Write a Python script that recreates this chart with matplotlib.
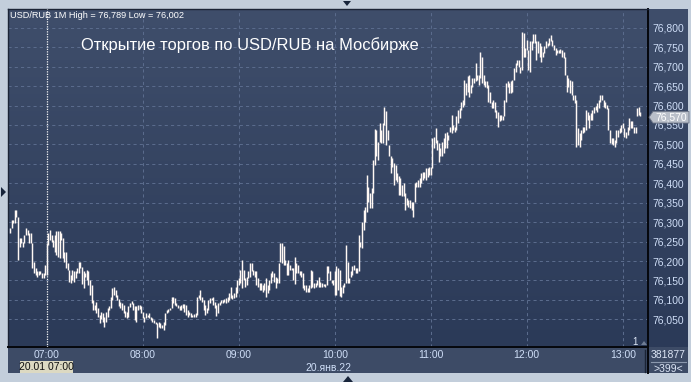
import matplotlib
matplotlib.use('Agg')
import matplotlib.pyplot as plt
import numpy as np
from matplotlib.patches import Rectangle, Polygon
from matplotlib.colors import LinearSegmentedColormap

plt.rcParams['font.family'] = ['Liberation Sans', 'DejaVu Sans']

# ---------------- data (1-minute bars, USD/RUB, 20 Jan 2022) ----------------
start_hour, start_minute = 6, 37
highs = [
    76.284, 76.306, 76.306, 76.331, 76.331, 76.313, 76.258, 76.258, 76.250, 76.267,
    76.284, 76.280, 76.271, 76.271, 76.246, 76.198, 76.181, 76.173, 76.173, 76.175,
    76.168, 76.168, 76.190, 76.246, 76.271, 76.280, 76.267, 76.254, 76.267, 76.276,
    76.276, 76.276, 76.271, 76.258, 76.224, 76.224, 76.194, 76.177, 76.164, 76.177,
    76.173, 76.173, 76.181, 76.198, 76.198, 76.184, 76.175, 76.170, 76.177, 76.173,
    76.151, 76.138, 76.100, 76.087, 76.095, 76.078, 76.061, 76.070, 76.065, 76.057,
    76.070, 76.078, 76.084, 76.108, 76.130, 76.134, 76.126, 76.113, 76.101, 76.095,
    76.093, 76.087, 76.072, 76.070, 76.083, 76.093, 76.097, 76.093, 76.083, 76.083,
    76.087, 76.087, 76.084, 76.070, 76.057, 76.065, 76.061, 76.065, 76.057, 76.053,
    76.048, 76.044, 76.040, 76.044, 76.040, 76.035, 76.044, 76.065, 76.074, 76.076,
    76.078, 76.108, 76.108, 76.104, 76.091, 76.087, 76.083, 76.087, 76.089, 76.089,
    76.087, 76.074, 76.070, 76.065, 76.061, 76.064, 76.065, 76.108, 76.113, 76.125,
    76.108, 76.100, 76.087, 76.078, 76.100, 76.104, 76.104, 76.108, 76.095, 76.087,
    76.091, 76.095, 76.100, 76.100, 76.101, 76.104, 76.108, 76.117, 76.134, 76.113,
    76.117, 76.132, 76.151, 76.156, 76.177, 76.203, 76.177, 76.156, 76.160, 76.173,
    76.194, 76.194, 76.177, 76.173, 76.173, 76.156, 76.143, 76.143, 76.138, 76.143,
    76.156, 76.138, 76.151, 76.170, 76.173, 76.168, 76.160, 76.156, 76.194, 76.246,
    76.246, 76.239, 76.203, 76.194, 76.203, 76.190, 76.181, 76.181, 76.211, 76.194,
    76.190, 76.173, 76.173, 76.168, 76.138, 76.138, 76.130, 76.138, 76.177, 76.173,
    76.143, 76.143, 76.151, 76.160, 76.147, 76.143, 76.141, 76.141, 76.186, 76.186,
    76.173, 76.151, 76.151, 76.173, 76.186, 76.181, 76.177, 76.134, 76.138, 76.143,
    76.241, 76.198, 76.156, 76.173, 76.186, 76.190, 76.181, 76.181, 76.267, 76.250,
    76.301, 76.331, 76.340, 76.422, 76.391, 76.374, 76.387, 76.460, 76.539, 76.537,
    76.507, 76.554, 76.537, 76.554, 76.597, 76.585, 76.537, 76.499, 76.469, 76.464,
    76.452, 76.447, 76.426, 76.420, 76.413, 76.396, 76.400, 76.374, 76.361, 76.357,
    76.357, 76.353, 76.353, 76.400, 76.404, 76.409, 76.413, 76.426, 76.430, 76.430,
    76.439, 76.439, 76.443, 76.443, 76.516, 76.520, 76.542, 76.512, 76.503, 76.490,
    76.507, 76.516, 76.529, 76.533, 76.524, 76.546, 76.576, 76.550, 76.546, 76.572,
    76.589, 76.593, 76.610, 76.615, 76.666, 76.657, 76.675, 76.679, 76.653, 76.670,
    76.670, 76.709, 76.679, 76.679, 76.739, 76.726, 76.679, 76.662, 76.662, 76.653,
    76.636, 76.610, 76.615, 76.610, 76.589, 76.584, 76.576, 76.576, 76.572, 76.615,
    76.657, 76.662, 76.657, 76.662, 76.666, 76.696, 76.709, 76.717, 76.717, 76.700,
    76.789, 76.786, 76.747, 76.769, 76.743, 76.765, 76.765, 76.784, 76.784, 76.765,
    76.765, 76.762, 76.752, 76.739, 76.752, 76.765, 76.760, 76.773, 76.782, 76.769,
    76.756, 76.747, 76.743, 76.743, 76.745, 76.743, 76.739, 76.726, 76.679, 76.670,
    76.666, 76.662, 76.627, 76.627, 76.615, 76.542, 76.529, 76.537, 76.546, 76.546,
    76.589, 76.584, 76.576, 76.580, 76.589, 76.596, 76.599, 76.606, 76.615, 76.627,
    76.627, 76.615, 76.610, 76.602, 76.593, 76.537, 76.516, 76.516, 76.512, 76.537,
    76.537, 76.542, 76.550, 76.554, 76.542, 76.533, 76.546, 76.567, 76.559, 76.559,
    76.546, 76.546, 76.593, 76.597, 76.584,
]
lows = [
    76.271, 76.284, 76.297, 76.297, 76.314, 76.203, 76.237, 76.246, 76.237, 76.246,
    76.267, 76.267, 76.246, 76.246, 76.181, 76.170, 76.164, 76.160, 76.164, 76.167,
    76.156, 76.156, 76.164, 76.164, 76.241, 76.254, 76.250, 76.237, 76.224, 76.216,
    76.211, 76.207, 76.254, 76.207, 76.198, 76.181, 76.177, 76.147, 76.143, 76.151,
    76.147, 76.156, 76.170, 76.168, 76.181, 76.141, 76.130, 76.160, 76.151, 76.138,
    76.113, 76.091, 76.074, 76.074, 76.067, 76.057, 76.041, 76.050, 76.044, 76.031,
    76.044, 76.057, 76.074, 76.078, 76.100, 76.113, 76.107, 76.100, 76.083, 76.078,
    76.074, 76.067, 76.055, 76.053, 76.055, 76.081, 76.089, 76.074, 76.048, 76.044,
    76.074, 76.076, 76.065, 76.053, 76.044, 76.053, 76.055, 76.053, 76.048, 76.044,
    76.040, 76.038, 76.002, 76.031, 76.027, 76.027, 76.022, 76.035, 76.067, 76.070,
    76.074, 76.078, 76.091, 76.087, 76.083, 76.078, 76.074, 76.074, 76.078, 76.070,
    76.061, 76.057, 76.061, 76.057, 76.055, 76.055, 76.057, 76.061, 76.104, 76.100,
    76.095, 76.074, 76.061, 76.065, 76.074, 76.091, 76.100, 76.087, 76.078, 76.059,
    76.065, 76.087, 76.091, 76.091, 76.095, 76.091, 76.095, 76.100, 76.104, 76.101,
    76.104, 76.108, 76.117, 76.138, 76.143, 76.130, 76.151, 76.134, 76.138, 76.156,
    76.160, 76.173, 76.164, 76.160, 76.138, 76.134, 76.125, 76.125, 76.121, 76.125,
    76.108, 76.117, 76.125, 76.143, 76.160, 76.147, 76.130, 76.143, 76.143, 76.198,
    76.194, 76.190, 76.190, 76.164, 76.164, 76.177, 76.177, 76.151, 76.141, 76.168,
    76.168, 76.164, 76.160, 76.130, 76.126, 76.121, 76.119, 76.121, 76.130, 76.134,
    76.130, 76.134, 76.138, 76.134, 76.134, 76.134, 76.136, 76.134, 76.138, 76.168,
    76.151, 76.143, 76.138, 76.113, 76.113, 76.126, 76.110, 76.108, 76.117, 76.134,
    76.143, 76.143, 76.143, 76.160, 76.164, 76.177, 76.168, 76.168, 76.173, 76.237,
    76.233, 76.280, 76.301, 76.327, 76.353, 76.336, 76.336, 76.374, 76.447, 76.469,
    76.460, 76.507, 76.503, 76.503, 76.550, 76.499, 76.512, 76.469, 76.426, 76.443,
    76.396, 76.409, 76.404, 76.370, 76.370, 76.366, 76.366, 76.331, 76.344, 76.340,
    76.336, 76.331, 76.314, 76.353, 76.391, 76.391, 76.391, 76.400, 76.409, 76.413,
    76.409, 76.417, 76.421, 76.421, 76.439, 76.490, 76.503, 76.486, 76.456, 76.469,
    76.469, 76.477, 76.490, 76.490, 76.512, 76.533, 76.529, 76.537, 76.533, 76.537,
    76.554, 76.567, 76.589, 76.597, 76.602, 76.627, 76.636, 76.623, 76.632, 76.649,
    76.657, 76.662, 76.666, 76.653, 76.670, 76.657, 76.653, 76.649, 76.645, 76.610,
    76.606, 76.593, 76.593, 76.584, 76.567, 76.546, 76.559, 76.563, 76.563, 76.572,
    76.610, 76.649, 76.632, 76.632, 76.636, 76.666, 76.687, 76.705, 76.700, 76.683,
    76.692, 76.726, 76.726, 76.743, 76.692, 76.687, 76.743, 76.760, 76.760, 76.717,
    76.735, 76.726, 76.713, 76.726, 76.735, 76.747, 76.752, 76.756, 76.765, 76.752,
    76.743, 76.730, 76.735, 76.735, 76.735, 76.726, 76.722, 76.679, 76.636, 76.649,
    76.632, 76.627, 76.615, 76.606, 76.494, 76.499, 76.494, 76.512, 76.529, 76.533,
    76.537, 76.563, 76.542, 76.563, 76.563, 76.580, 76.589, 76.584, 76.593, 76.610,
    76.615, 76.596, 76.593, 76.591, 76.537, 76.503, 76.501, 76.499, 76.494, 76.503,
    76.520, 76.529, 76.533, 76.542, 76.520, 76.516, 76.524, 76.537, 76.542, 76.542,
    76.529, 76.529, 76.572, 76.576, 76.572,
]
last_price = 76.570
hour_labels = ['07:00', '08:00', '09:00', '10:00', '11:00', '12:00', '13:00']
price_ticks = [76.05, 76.10, 76.15, 76.20, 76.25, 76.30, 76.35, 76.40, 76.45,
               76.50, 76.55, 76.60, 76.65, 76.70, 76.75, 76.80]
title = 'Открытие торгов по USD/RUB на Мосбирже'
date_label = '20.янв.22'
cursor_label = '20.01 07:00'
volume_label = '381877'
bars_label = '>399<'

# ---------------- layout helpers (pixels) ----------------
W, H = 691, 382
fig = plt.figure(figsize=(W / 100, H / 100), dpi=100)
fig.patch.set_facecolor('#c3cedb')

def fx(px):
    return px / W

def fy(py):
    return 1 - py / H

# dark gradient panel (plot + right scale)
bg = fig.add_axes([fx(8), fy(347), fx(688) - fx(8), fy(9) - fy(347)])
cmap = LinearSegmentedColormap.from_list('g', ['#3f4e6b', '#2b3a58'])
bg.imshow(np.linspace(0, 1, 256).reshape(-1, 1), aspect='auto', cmap=cmap,
          extent=[0, 1, 0, 1], origin='upper')
bg.set_axis_off()

# bottom time strip
fig.add_artist(Rectangle((fx(8), fy(373)), fx(688) - fx(8), fy(347) - fy(373),
                         transform=fig.transFigure, facecolor='#3d4b66',
                         edgecolor='none', zorder=0))

ax = fig.add_axes([fx(8), fy(347), fx(648) - fx(8), fy(9) - fy(347)])
ax.patch.set_alpha(0)

n = min(len(highs), len(lows))
x = np.arange(n)
n_slots = 399
ax.set_xlim(-1.2, n_slots - 0.2)
ax.set_ylim(75.9787, 76.8485)

grid_col = '#5a6b8c'
for p in price_ticks:
    ax.axhline(p, color=grid_col, lw=0.75, ls=(0, (3, 3)), zorder=1)

minutes_to_first_hour = 60 - start_minute
hour_idx = [minutes_to_first_hour + 60 * i for i in range(len(hour_labels))]
for hx in hour_idx[1:]:
    ax.axvline(hx, color=grid_col, lw=0.75, ls=(0, (3, 3)), zorder=1)

ax.vlines(x, lows[:n], highs[:n], color='#fff8f4', lw=1.05, zorder=3)

# cursor line at 07:00
ax.axvline(hour_idx[0], color='#f4f4f4', lw=0.9, ls=(0, (1, 1)), zorder=4)

for s in ['top', 'left']:
    ax.spines[s].set_color('#1b2436')
    ax.spines[s].set_linewidth(1.0)
for s in ['right', 'bottom']:
    ax.spines[s].set_color('#05070c')
    ax.spines[s].set_linewidth(1.4)

lab_col = '#cfdef7'
ax.yaxis.tick_right()
ax.set_yticks(price_ticks)
ax.set_yticklabels([f'{p:.3f}'.replace('.', ',') for p in price_ticks])
ax.tick_params(axis='y', length=0, pad=3, labelsize=7.5, labelcolor=lab_col)
ax.set_xticks(hour_idx)
ax.set_xticklabels(hour_labels)
ax.tick_params(axis='x', length=0, pad=2.2, labelsize=7.5, labelcolor=lab_col)

# header and title
hi = max(highs)
lo = min(lows)
fig.text(fx(10), fy(15), f'USD/RUB 1M High = {hi:.3f} Low = {lo:.3f}'.replace('.', ','),
         color='white', fontsize=6.6, ha='left', va='center')
fig.text(fx(81), fy(45), title, color='white', fontsize=11.9, ha='left', va='center')

# date under time axis
fig.text(fx(351), fy(368), date_label, color=lab_col, fontsize=7.5, ha='right', va='center')

# cursor date box
fig.add_artist(Rectangle((fx(20), fy(373)), fx(73) - fx(20), fy(361) - fy(373),
                         transform=fig.transFigure, facecolor='#dcd9c2',
                         edgecolor='none', zorder=5))
fig.text(fx(46.5), fy(367), cursor_label, color='#101010', fontsize=7.5,
         ha='center', va='center', zorder=6)

# right bottom info box
fig.add_artist(plt.Line2D([fx(648), fx(648)], [fy(347), fy(373)], transform=fig.transFigure,
                          color='#05070c', lw=1.4))
fig.add_artist(plt.Line2D([fx(644.5), fx(644.5)], [fy(350), fy(372)], transform=fig.transFigure,
                          color='#1b2436', lw=1.0))
fig.add_artist(plt.Line2D([fx(651), fx(686)], [fy(362), fy(362)], transform=fig.transFigure,
                          color='#8a97ad', lw=0.8))
fig.text(fx(668), fy(355), volume_label, color='#dde6f6', fontsize=7.5, ha='center', va='center')
fig.text(fx(668), fy(369), bars_label, color='#dde6f6', fontsize=7.5, ha='center', va='center')

# "1" marker bottom right of plot
fig.text(fx(635), fy(342), '1', color='#dde6f6', fontsize=7, ha='center', va='center')
fig.add_artist(Polygon([[fx(641), fy(345)], [fx(647), fy(345)], [fx(644), fy(341)]],
                       closed=True, transform=fig.transFigure, facecolor='#6f7d95',
                       edgecolor='none'))

# last price marker
fig.canvas.draw()
ypx = H - ax.transData.transform((0, last_price))[1]
box = [[649, ypx], [653, ypx - 5.8], [689, ypx - 5.8], [689, ypx + 5.8], [653, ypx + 5.8]]
fig.add_artist(Polygon([[fx(a), fy(b)] for a, b in box], closed=True,
                       transform=fig.transFigure, facecolor='#b9bfc9',
                       edgecolor='#6c7486', lw=0.6, zorder=7))
fig.text(fx(671), fy(ypx), f'{last_price:.3f}'.replace('.', ','), color='white',
         fontsize=7.5, ha='center', va='center', zorder=8)

# navigation triangles in outer frame
tri_col = '#17243a'
fig.add_artist(Polygon([[fx(343), fy(1)], [fx(351), fy(1)], [fx(347), fy(6)]], closed=True,
                       transform=fig.transFigure, facecolor=tri_col, edgecolor='none'))
fig.add_artist(Polygon([[fx(1), fy(187)], [fx(1), fy(197)], [fx(6), fy(192)]], closed=True,
                       transform=fig.transFigure, facecolor=tri_col, edgecolor='none'))
fig.add_artist(Polygon([[fx(343), fy(382)], [fx(353), fy(382)], [fx(348), fy(376)]], closed=True,
                       transform=fig.transFigure, facecolor=tri_col, edgecolor='none'))

fig.savefig('out.png', dpi=100, facecolor=fig.get_facecolor())
